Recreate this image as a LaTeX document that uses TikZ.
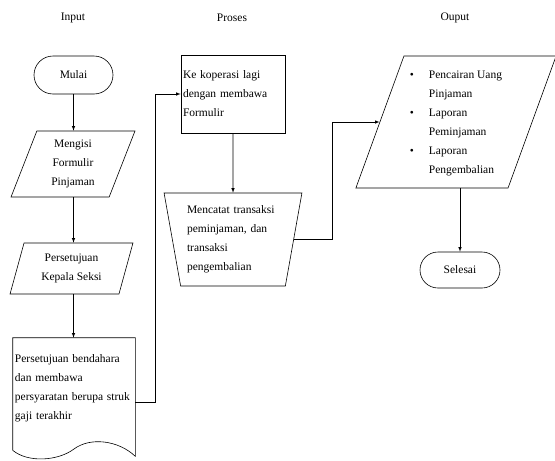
\documentclass[tikz,border=0pt]{standalone}
\usepackage{fontspec}
\setmainfont{Liberation Serif}
\usetikzlibrary{calc,shapes.geometric,shapes.misc}
\tikzset{>=latex}
\tikzset{
  base/.style = {draw, line width=0.6pt, font=\fontsize{11.5}{19}\selectfont, inner sep=2pt},
  terminal/.style = {base, rounded rectangle, minimum width=83pt, minimum height=38pt},
  io/.style = {base, trapezium, trapezium stretches=true, align=center},
  process/.style = {base, rectangle, minimum width=104pt, minimum height=78pt, text width=100pt, align=left},
  manual/.style = {base, trapezium, trapezium left angle=78, trapezium right angle=78,
    shape border rotate=180, trapezium stretches=true, minimum width=138pt, minimum height=93pt,
    text width=92pt, align=left},
  title/.style = {font=\fontsize{11.5}{19}\selectfont},
  line/.style = {line width=0.6pt}
}

\begin{document}
\begin{tikzpicture}[x=1pt,y=-1pt]
  \useasboundingbox (0,0) rectangle (555,461);
  % column titles
  \node[title] (inputlbl)  at (73,18)  {Input};
  \node[title] (proseslbl) at (232,18) {Proses};
  \node[title] (ouputlbl)  at (455,18) {Ouput};
  % input
  \node[terminal] (mulai) at (73.5,75) {Mulai};
  \node[io, trapezium left angle=72, trapezium right angle=108, minimum width=124pt, minimum height=66pt] (mengisi) at (73,164) {Mengisi\\Formulir\\Pinjaman};
  \node[io, trapezium left angle=74, trapezium right angle=106, minimum width=123pt, minimum height=51pt] (kepala) at (71.5,268.5) {Persetujuan\\Kepala Seksi};
  \node[base, draw=none, minimum width=122pt, minimum height=100pt, text width=118pt, align=left] (doc) at (74,388)
    {Persetujuan bendahara\\dan membawa\\persyaratan berupa struk\\gaji terakhir};
  \draw[line] ($(doc.south west)+(0,12)$) -- (doc.north west) -- (doc.north east) -- ($(doc.south east)+(0,18)$)
    .. controls (118,440) and (90,437) .. (74,449) .. controls (58,461) and (28,463) .. ($(doc.south west)+(0,12)$);
  % proses
  \node[process] (koperasi) at (233,94) {Ke koperasi lagi\\dengan membawa\\Formulir};
  \node[manual] (catat) at (233,239.5) {Mencatat transaksi\\peminjaman, dan\\transaksi\\pengembalian};
  % output
  \node[base, trapezium, trapezium left angle=70, trapezium right angle=110, inner xsep=6pt, inner ysep=9pt] (out) at (456,122)
    {\begin{tabular}{@{}p{19pt}@{}l@{}}
      \textbullet & Pencairan Uang\\ & Pinjaman\\
      \textbullet & Laporan\\ & Peminjaman\\
      \textbullet & Laporan\\ & Pengembalian
    \end{tabular}};
  \node[terminal, minimum width=84pt, minimum height=36pt] (selesai) at (460,270) {Selesai};
  % connectors
  \draw[line,->] (mulai.south) -- (mulai.south |- mengisi.north);
  \draw[line,->] (mulai.south |- mengisi.south) -- (mulai.south |- kepala.north);
  \draw[line,->] (mulai.south |- kepala.south) -- (mulai.south |- doc.north);
  \draw[line,->] ([yshift=-14pt]doc.east) -- ++(20,0) |- (koperasi.west);
  \draw[line,->] (koperasi.south) -- (catat.north);
  \draw[line,->] (catat.east) -- ++(38,0) |- (out.west);
  \draw[line,->] (selesai.north |- out.south) -- (selesai.north);
\end{tikzpicture}
\end{document}
